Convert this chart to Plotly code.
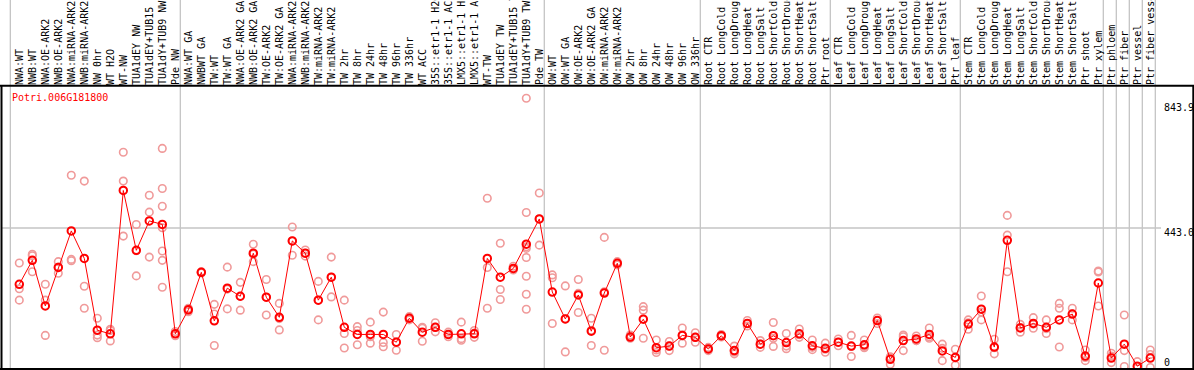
import plotly.graph_objects as go

title = "Potri.006G181800"

labels = ["NWA:WT", "NWB:WT", "NWA:OE-ARK2", "NWB:OE-ARK2", "NWA:miRNA-ARK2", "NWB:miRNA-ARK2",
          "NW 0hr", "WT H2O", "WT-NW", "TUA1dEY NW", "TUA1dEY+TUB15 NW", "TUA1dY+TUB9 NW", "Pde NW",
          "NWA:WT GA", "NWBWT GA", "TW:WT", "TW:WT GA", "NWA:OE-ARK2 GA", "NWB:OE-ARK2 GA",
          "TW:OE-ARK2", "TW:OE-ARK2 GA", "NWA:miRNA-ARK2", "NWB:miRNA-ARK2", "TW:miRNA-ARK2",
          "TW:miRNA-ARK2", "TW 2hr", "TW 8hr", "TW 24hr", "TW 48hr", "TW 96hr", "TW 336hr", "WT ACC",
          "35S::etr1-1 H2O", "35S::etr1-1 ACC", "LMX5::etr1-1 H2O", "LMX5::etr1-1 ACC", "WT-TW",
          "TUA1dEY TW", "TUA1dEY+TUB15 TW", "TUA1dY+TUB9 TW", "Pde TW",
          "OW:WT", "OW:WT GA", "OW:OE-ARK2", "OW:OE-ARK2 GA", "OW:miRNA-ARK2", "OW:miRNA-ARK2",
          "OW 2hr", "OW 8hr", "OW 24hr", "OW 48hr", "OW 96hr", "OW 336hr",
          "Root CTR", "Root LongCold", "Root LongDrought", "Root LongHeat", "Root LongSalt",
          "Root ShortCold", "Root ShortDrought", "Root ShortHeat", "Root ShortSalt", "Ptr root",
          "Leaf CTR", "Leaf LongCold", "Leaf LongDrought", "Leaf LongHeat", "Leaf LongSalt",
          "Leaf ShortCold", "Leaf ShortDrought", "Leaf ShortHeat", "Leaf ShortSalt", "Ptr leaf",
          "Stem CTR", "Stem LongCold", "Stem LongDrought", "Stem LongHeat", "Stem LongSalt",
          "Stem ShortCold", "Stem ShortDrought", "Stem ShortHeat", "Stem ShortSalt", "Ptr shoot",
          "Ptr xylem", "Ptr phloem", "Ptr fiber", "Ptr vessel", "Ptr fiber vessel"]

means = [269, 343, 202, 321, 434, 349, 127, 116, 559, 374, 465, 454, 116, 190, 306, 156, 257, 232,
         365, 229, 167, 403, 365, 220, 291, 136, 114, 114, 114, 90, 164, 121, 136, 114, 116, 116,
         349, 291, 318, 393, 471, 245, 162, 236, 124, 242, 334, 106, 161, 73, 78, 111, 105, 69,
         110, 64, 148, 84, 110, 89, 116, 79, 71, 90, 78, 82, 157, 37, 95, 100, 114, 63, 43, 146,
         192, 75, 405, 134, 148, 136, 159, 177, 47, 273, 41, 84, 16, 41]

replicates = [
    [335, 255, 220], [362, 357, 308], [269, 220, 111], [339, 322, 303], [606, 346, 342],
    [588, 263, 195], [164, 112, 104], [130, 126, 94], [677, 588, 418], [454, 373, 295],
    [544, 492, 353], [689, 565, 510, 444, 372, 343, 260], [123, 116, 110], [195, 189, 184],
    [308, 306, 304], [207, 177, 80], [322, 254, 193], [275, 232, 189], [393, 362, 339],
    [284, 229, 174], [210, 163, 128], [446, 403, 359], [375, 365, 356], [278, 220, 159],
    [353, 291, 230], [220, 117, 72], [138, 126, 82], [152, 107, 87], [183, 89, 76],
    [114, 90, 65], [169, 164, 159], [136, 133, 93], [150, 136, 122], [121, 114, 107],
    [152, 101, 96], [126, 118, 105], [535, 321, 195], [396, 253, 222], [325, 316, 313],
    [843.9, 491, 385, 380, 352, 294, 238, 192], [551, 471, 390], [298, 289, 148],
    [264, 162, 60], [284, 241, 182], [164, 127, 80], [414, 246, 65], [339, 334, 329],
    [112, 106, 102], [200, 189, 102], [97, 66, 58], [92, 78, 64], [134, 112, 87],
    [119, 105, 90], [74, 69, 64], [114, 110, 106], [78, 60, 54], [157, 148, 140],
    [95, 84, 74], [151, 102, 77], [117, 78, 70], [131, 113, 105], [97, 74, 67],
    [87, 68, 59], [100, 90, 79], [111, 77, 46], [97, 77, 73], [165, 157, 148],
    [45, 43, 22], [112, 107, 64], [109, 95, 95], [134, 107, 102], [84, 71, 33],
    [68, 43, 19], [159, 150, 130], [233, 183, 159], [99, 73, 54], [482, 421, 308],
    [145, 135, 121], [166, 146, 133], [159, 132, 117], [210, 195, 75], [195, 178, 159],
    [66, 43, 33], [310, 307, 202], [56, 47, 27], [174, 64, 15], [30, 15, 4], [66, 52, 12]]

axis_values = [843.9, 443.0, 0]
axis_texts = ["843.9", "443.0", "0"]
separators = [-0.69, 12.385, 40.385, 52.385, 62.385, 72.385, 83.385, 84.385, 85.385, 86.385, 87.385]

W, H = 1194, 370
PT, PB = 86, 369  # plot area top / bottom in px
PH = PB - PT


def py(ypx):
    return (PB - ypx) / PH


def px(xpx):
    return xpx / W


FONT = "DejaVu Sans Mono"
RED = "#ff0000"
PINK = "#f09a9a"
GRID = "#c4c4c4"

rx, ry = [], []
for i, reps in enumerate(replicates):
    for v in reps:
        rx.append(i)
        ry.append(v)

fig = go.Figure()
fig.add_trace(go.Scatter(x=rx, y=ry, mode="markers", cliponaxis=False,
                         marker=dict(symbol="circle-open", size=7.5, color=PINK,
                                     line=dict(width=1.6, color=PINK)),
                         hoverinfo="skip"))
fig.add_trace(go.Scatter(x=list(range(len(means))), y=means, mode="lines+markers", cliponaxis=False,
                         line=dict(color=RED, width=1),
                         marker=dict(symbol="circle-open", size=7.5, color=RED,
                                     line=dict(width=2, color=RED))))

shapes = []
for s in separators:
    shapes.append(dict(type="line", xref="x", yref="paper", x0=s, x1=s, y0=0, y1=py(0),
                       line=dict(color=GRID, width=1.3), layer="below"))
shapes.append(dict(type="line", xref="paper", yref="y", x0=px(1), x1=px(1161),
                   y0=axis_values[1], y1=axis_values[1], line=dict(color=GRID, width=1.3), layer="below"))
# frame
for (x0, y0, x1, y1) in [(0, 85.7, W, 85.7), (0, PB, W, PB), (1.5, 85.7, 1.5, PB), (1193.3, 85.7, 1193.3, PB)]:
    shapes.append(dict(type="line", xref="paper", yref="paper", x0=px(x0), x1=px(x1),
                       y0=py(y0), y1=py(y1), line=dict(color="black", width=2)))

annotations = [dict(text=title, xref="paper", yref="paper", x=px(10), y=py(97),
                    xanchor="left", yanchor="middle", showarrow=False,
                    font=dict(family=FONT, size=10, color=RED))]
for t, ycen in zip(axis_texts, [107, 232.5, 362]):
    annotations.append(dict(text=t, xref="paper", yref="paper", x=px(1162), y=py(ycen),
                            xanchor="left", yanchor="middle", showarrow=False,
                            font=dict(family=FONT, size=10, color="black")))

# y mapping: 443 at y=228, 843.9 at y=98.3
s = (228 - 98.3) / (843.9 - 443.0)
y0px = 228 + 443.0 * s
ytop = (y0px - PT) / s
ybot = (y0px - PB) / s
x_first = 19.3
step = 13.0
xmin = -x_first / step
xmax = (W - x_first) / step

fig.update_layout(
    width=W, height=H,
    margin=dict(l=0, r=0, t=PT, b=H - PB, pad=0, autoexpand=False),
    plot_bgcolor="white", paper_bgcolor="white",
    showlegend=False,
    shapes=shapes, annotations=annotations,
    xaxis=dict(range=[xmin, xmax], side="top", tickmode="array", automargin=False,
               tickvals=list(range(len(labels))), ticktext=labels, tickangle=-90,
               tickfont=dict(family=FONT, size=10, color="black"),
               showgrid=False, zeroline=False, showline=False, ticks=""),
    yaxis=dict(range=[ybot, ytop], showgrid=False, zeroline=False, showticklabels=False,
               showline=False, automargin=False),
)

fig.write_html("out.html", config={"displayModeBar": False},
               post_script="document.body.style.margin='0';document.body.style.overflow='hidden';")
